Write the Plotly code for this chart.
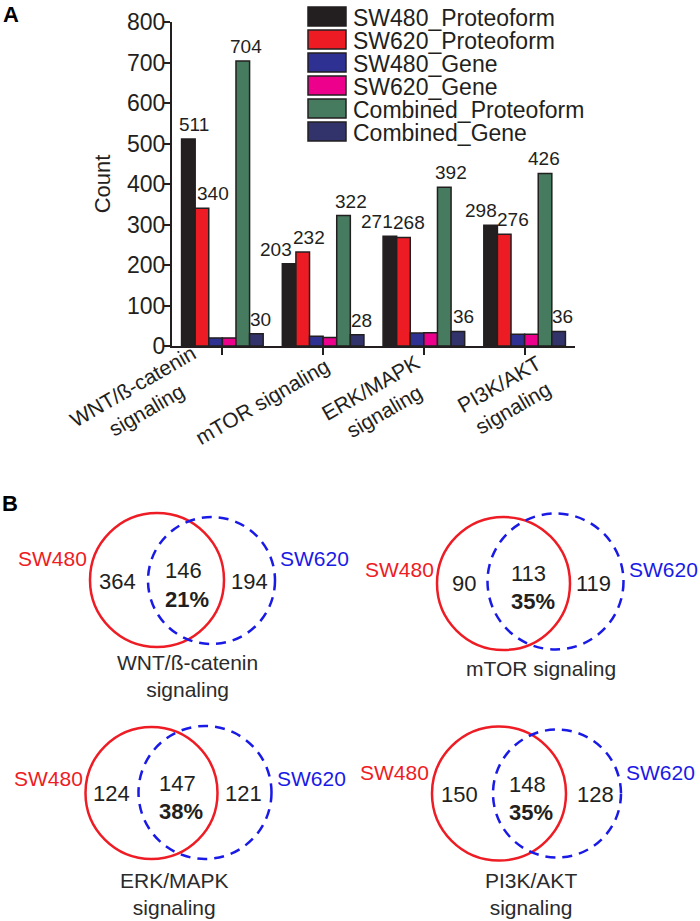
import plotly.graph_objects as go

# ---------------- data ----------------
pathways = ["WNT/ß-catenin<br>signaling", "mTOR signaling",
            "ERK/MAPK<br>signaling", "PI3K/AKT<br>signaling"]
series_names = ["SW480_Proteoform", "SW620_Proteoform", "SW480_Gene",
                "SW620_Gene", "Combined_Proteoform", "Combined_Gene"]
sw480_proteoform = [511, 203, 271, 298]
sw620_proteoform = [340, 232, 268, 276]
sw480_gene = [20, 24, 32, 29]
sw620_gene = [20, 21, 33, 29]
combined_proteoform = [704, 322, 392, 426]
combined_gene = [30, 28, 36, 36]
y_ticks = [0, 100, 200, 300, 400, 500, 600, 700, 800]

venn_titles = ["WNT/ß-catenin<br>signaling", "mTOR signaling",
               "ERK/MAPK<br>signaling", "PI3K/AKT<br>signaling"]
venn_sw480_only = [364, 90, 124, 150]
venn_shared = [146, 113, 147, 148]
venn_sw620_only = [194, 119, 121, 128]
venn_set_names = ["SW480", "SW620"]

# ---------------- styles ----------------
FONT = "Arial, Liberation Sans, sans-serif"
INK = "#231f20"
colors = ["#231f20", "#ed1c24", "#2e3192", "#ec008c", "#477b5f", "#31336a"]
labeled = [True, True, False, False, True, True]
label_xshift = [[6, -13, -13, -10], [11, 6, 6, 9], None, None,
                [3, 7, 7, -1], [4, 4, 6, 4]]
# offsets (px) of the rotated category-label centres from their ticks
cat_dx = [-83, -61, -46, -19]
cat_dy = [-52, -55, -53, -50]
W, H = 700, 921
BARGAP = 0.19

all_series = [sw480_proteoform, sw620_proteoform, sw480_gene,
              sw620_gene, combined_proteoform, combined_gene]


def px(x):
    return x / W


def py(y):
    return 1 - y / H


fig = go.Figure()
for name, vals, col in zip(series_names, all_series, colors):
    fig.add_trace(go.Bar(
        x=pathways, y=vals, name=name, showlegend=False, hoverinfo="skip",
        marker=dict(color=col, line=dict(color=INK, width=1.5)),
    ))

annotations = []
shapes = []

# value labels above bars
nser = len(all_series)
bw = (1 - BARGAP) / nser
for s, vals in enumerate(all_series):
    if not labeled[s]:
        continue
    for g, v in enumerate(vals):
        annotations.append(dict(
            x=g + (s - (nser - 1) / 2) * bw, y=v, xref="x", yref="y",
            text=str(v), showarrow=False, yanchor="bottom", xanchor="center",
            xshift=label_xshift[s][g], yshift=2,
            font=dict(family=FONT, size=19, color=INK)))

# rotated category labels
for g, cat in enumerate(pathways):
    annotations.append(dict(
        x=g, y=0, xref="x", yref="y", text=cat, showarrow=False,
        textangle=-30, xanchor="center", yanchor="middle", align="center",
        xshift=cat_dx[g], yshift=cat_dy[g],
        font=dict(family=FONT, size=21, color=INK)))

# manual legend
leg_x0, leg_y0, box_w, box_h, step = 308, 7, 38, 19, 23
for i, (name, col) in enumerate(zip(series_names, colors)):
    top = leg_y0 + i * step
    shapes.append(dict(type="rect", xref="paper", yref="paper",
                       x0=px(leg_x0), x1=px(leg_x0 + box_w),
                       y0=py(top), y1=py(top + box_h),
                       fillcolor=col, line=dict(color=INK, width=1.5)))
    annotations.append(dict(
        x=px(leg_x0 + box_w + 5), y=py(top + box_h / 2 + 1), xref="paper",
        yref="paper", text=name, showarrow=False, xanchor="left",
        yanchor="middle", font=dict(family=FONT, size=23, color=INK)))

# panel letters
for letter, (lx, ly) in zip(["A", "B"], [(11, 14), (10, 503)]):
    annotations.append(dict(
        x=px(lx), y=py(ly), xref="paper", yref="paper",
        text="<b>%s</b>" % letter, showarrow=False,
        xanchor="center", yanchor="middle",
        font=dict(family=FONT, size=22, color="black")))

# ---------------- Venn diagrams ----------------
RED = "#ee1c24"
BLUE = "#1a1ae6"
venn_geom = [
    # red (cx, cy, r), blue (cx, cy, r), set-label y, title (x, y)
    dict(red=(157, 580, 67), blue=(211.5, 580.5, 63.5), ly=558, title=(187, 676)),
    dict(red=(503.5, 583.5, 66.5), blue=(555.5, 581.5, 68), ly=569, title=(541, 668)),
    dict(red=(151.5, 793, 66), blue=(205, 792.5, 66.5), ly=778, title=(174, 894)),
    dict(red=(499, 793.5, 67), blue=(557, 793.5, 64), ly=772, title=(531, 894)),
]
for k, gm in enumerate(venn_geom):
    rcx, rcy, rr = gm["red"]
    bcx, bcy, br = gm["blue"]
    shapes.append(dict(type="circle", xref="paper", yref="paper",
                       x0=px(rcx - rr), x1=px(rcx + rr),
                       y0=py(rcy + rr), y1=py(rcy - rr),
                       line=dict(color=RED, width=2.5)))
    shapes.append(dict(type="circle", xref="paper", yref="paper",
                       x0=px(bcx - br), x1=px(bcx + br),
                       y0=py(bcy + br), y1=py(bcy - br),
                       line=dict(color=BLUE, width=2.5, dash="10px,7px")))
    cy = (rcy + bcy) / 2
    mid = (rcx + bcx) / 2
    total = venn_sw480_only[k] + venn_shared[k] + venn_sw620_only[k]
    pct = round(100 * venn_shared[k] / total)
    txt = [
        (rcx - 40, cy + 1, str(venn_sw480_only[k]), "center", INK, False, 22),
        (mid - 1, cy - 9.5, str(venn_shared[k]), "center", INK, False, 22),
        (mid + 3, cy + 19, "%d%%" % pct, "center", INK, True, 22),
        (bcx + 38, cy + 1, str(venn_sw620_only[k]), "center", INK, False, 22),
        (rcx - rr - 1, gm["ly"], venn_set_names[0], "right", RED, False, 21),
        (bcx + br + 3, gm["ly"], venn_set_names[1], "left", BLUE, False, 21),
    ]
    for (tx, ty, t, anc, col, bold, fs) in txt:
        annotations.append(dict(
            x=px(tx), y=py(ty), xref="paper", yref="paper",
            text="<b>%s</b>" % t if bold else t, showarrow=False,
            xanchor=anc, yanchor="middle",
            font=dict(family=FONT, size=fs, color=col)))
    tx, ty = gm["title"]
    annotations.append(dict(
        x=px(tx), y=py(ty), xref="paper", yref="paper", text=venn_titles[k],
        showarrow=False, xanchor="center", yanchor="middle",
        font=dict(family=FONT, size=21, color="#2b2b2b")))

fig.update_layout(
    width=W, height=H,
    margin=dict(l=0, r=0, t=0, b=0),
    paper_bgcolor="white", plot_bgcolor="rgba(0,0,0,0)",
    barmode="group", bargap=BARGAP, bargroupgap=0,
    showlegend=False, hovermode=False,
    font=dict(family=FONT, color=INK),
    xaxis=dict(domain=[px(172), px(575)], range=[-0.5, 3.5],
               type="category", showline=True, linewidth=2, linecolor=INK,
               ticks="outside", ticklen=7, tickwidth=2, tickcolor=INK,
               showticklabels=False,
               showgrid=False, zeroline=False, automargin=False),
    yaxis=dict(domain=[py(346), py(22)], range=[0, 800], tickvals=y_ticks,
               showline=True, linewidth=2, linecolor=INK,
               ticks="outside", ticklen=6, tickwidth=2, tickcolor=INK,
               ticklabelstandoff=-6,
               tickfont=dict(family=FONT, size=23, color=INK),
               title=dict(text="Count", standoff=10,
                          font=dict(family=FONT, size=22, color=INK)),
               showgrid=False, zeroline=False, automargin=False),
    annotations=annotations, shapes=shapes,
)

fig.write_html("out.html",
               config={"displayModeBar": False, "staticPlot": True},
               post_script="document.body.style.margin='0';"
                           "document.body.style.overflow='hidden';")
